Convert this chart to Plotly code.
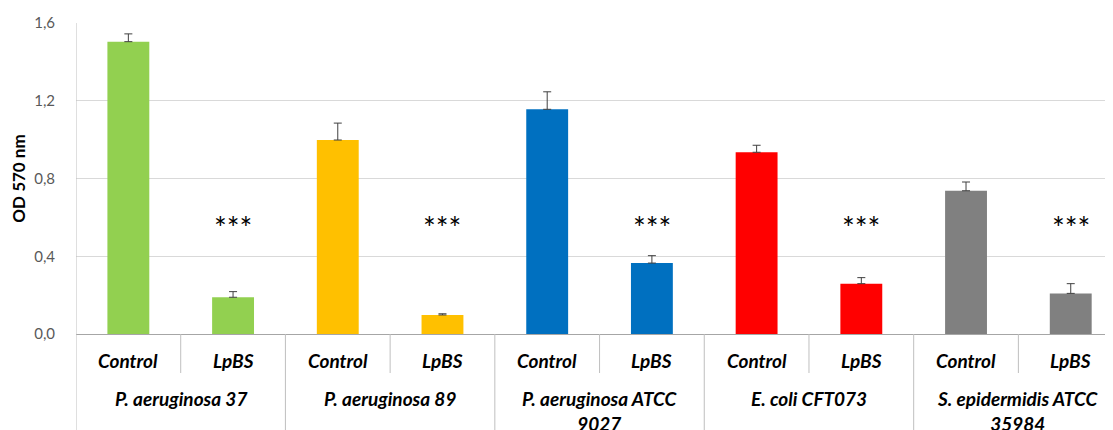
import plotly.graph_objects as go

groups = ["P. aeruginosa 37", "P. aeruginosa 89", "P. aeruginosa ATCC 9027",
          "E. coli CFT073", "S. epidermidis ATCC 35984"]
treatments = ["Control", "LpBS"]
control_vals = [1.504, 0.998, 1.156, 0.935, 0.737]
control_err = [0.040, 0.087, 0.090, 0.036, 0.045]
lpbs_vals = [0.189, 0.098, 0.365, 0.259, 0.209]
lpbs_err = [0.029, 0.006, 0.038, 0.031, 0.050]
group_colors = ["#92D050", "#FFC000", "#0070C0", "#FF0000", "#808080"]
significance = ["***", "***", "***", "***", "***"]
y_ticks = [0.0, 0.4, 0.8, 1.2, 1.6]

FONT = "Lato"

xs, ys, errs, cols = [], [], [], []
for g in range(len(groups)):
    for t, (v, e) in enumerate([(control_vals[g], control_err[g]), (lpbs_vals[g], lpbs_err[g])]):
        xs.append(2 * g + t)
        ys.append(v)
        errs.append(e)
        cols.append(group_colors[g])

fig = go.Figure()
fig.add_trace(go.Bar(
    x=xs, y=ys, width=0.4,
    marker=dict(color=cols, line=dict(width=0)),
    error_y=dict(type="data", array=errs, arrayminus=[0] * len(errs), symmetric=False,
                 color="#404040", thickness=1, width=4),
    hoverinfo="x+y",
))

annotations = []
shapes = []
H_PLOT = 311.0
def py(px_below):
    return -px_below / H_PLOT

for g, name in enumerate(groups):
    for t, tr in enumerate(treatments):
        annotations.append(dict(x=2 * g + t, y=py(26), xref="x", yref="paper", text="<b><i>%s</i></b>" % tr,
                                showarrow=False, font=dict(family=FONT, size=19, color="#000000"),
                                xanchor="center", yanchor="middle"))
    label = name
    if len(name) > 20:
        i = name.rfind(" ")
        label = name[:i] + "<br>" + name[i + 1:]
    annotations.append(dict(x=2 * g + 0.5, y=py(51), xref="x", yref="paper", text="<b><i>%s</i></b>" % label,
                            showarrow=False, font=dict(family=FONT, size=19, color="#000000"),
                            xanchor="center", yanchor="top"))
    annotations.append(dict(x=2 * g + 1, y=0.55, xref="x", yref="y", text=significance[g],
                            showarrow=False, font=dict(family=FONT, size=30, color="#000000"),
                            xanchor="center", yanchor="middle"))
    shapes.append(dict(type="line", xref="x", yref="paper", x0=2 * g + 0.5, x1=2 * g + 0.5,
                       y0=0, y1=py(39), line=dict(color="#BFBFBF", width=1)))
    if g < len(groups) - 1:
        shapes.append(dict(type="line", xref="x", yref="paper", x0=2 * g + 1.5, x1=2 * g + 1.5,
                           y0=0, y1=py(110), line=dict(color="#BFBFBF", width=1)))

shapes.append(dict(type="line", xref="x", yref="paper", x0=-0.5, x1=-0.5,
                   y0=py(110), y1=1, line=dict(color="#BFBFBF", width=1)))

fig.update_layout(
    width=1113, height=430,
    margin=dict(l=68, r=0, t=15, b=104),
    plot_bgcolor="white", paper_bgcolor="white",
    separators=",.",
    showlegend=False,
    annotations=annotations,
    shapes=shapes,
    xaxis=dict(range=[-0.5, 9.48], showticklabels=False, showgrid=False, zeroline=False,
               showline=True, linecolor="#A6A6A6", linewidth=1, ticks=""),
    yaxis=dict(range=[0, 1.6], tickvals=y_ticks, tickformat=".1f", showgrid=True,
               gridcolor="#D9D9D9", gridwidth=1, zeroline=False, showline=False,
               ticks="outside", ticklen=17, tickcolor="rgba(0,0,0,0)",
               tickfont=dict(family=FONT, size=15, color="#595959"),
               title=dict(text="<b>OD 570 nm</b>", font=dict(family=FONT, size=17, color="#000000"),
                          standoff=8)),
)

fig.write_html("out.html")
